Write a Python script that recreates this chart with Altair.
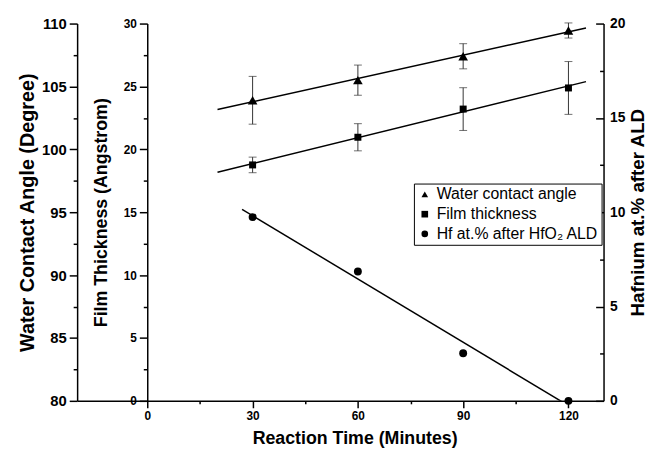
import altair as alt
import pandas as pd

# ---- data ----
time_min = [30, 60, 90, 120]
contact_angle = [103.9, 105.5, 107.4, 109.45]
contact_angle_err = [1.9, 1.2, 1.0, 0.6]
thickness = [18.76, 20.96, 23.2, 24.88]
thickness_err = [0.62, 1.08, 1.7, 2.1]
hf_percent = [9.74, 6.86, 2.52, 0.0]

series_names = ["Water contact angle", "Film thickness", "Hf at.% after HfO\u2082 ALD"]
series_shapes = ["triangle-up", "square", "circle"]

x_ticks = [0, 15, 30, 45, 60, 75, 90, 105, 120]
angle_ticks = [80, 82.5, 85, 87.5, 90, 92.5, 95, 97.5, 100, 102.5, 105, 107.5, 110]
thick_ticks = [0, 2.5, 5, 7.5, 10, 12.5, 15, 17.5, 20, 22.5, 25, 27.5, 30]
hf_ticks = [0, 2.5, 5, 7.5, 10, 12.5, 15, 17.5, 20]

FONT = "Liberation Sans"
W, H = 533, 382


def tick_size(step, major, minor):
    return {"condition": {"test": f"datum.value % {step} === 0", "value": major}, "value": minor}


def label_expr(step):
    return f"datum.value % {step} === 0 ? datum.label : ''"


angle_df = pd.DataFrame({"time": time_min, "angle": contact_angle,
                         "err": contact_angle_err, "series": series_names[0]})
thick_df = pd.DataFrame({"time": time_min, "thick": thickness,
                         "err": thickness_err, "series": series_names[1]})
hf_df = pd.DataFrame({"time": time_min, "hf": hf_percent, "series": series_names[2]})

x_enc = alt.X(
    "time:Q",
    scale=alt.Scale(domain=[-20, 130], nice=False, zero=False),
    axis=alt.Axis(values=x_ticks, title="Reaction Time (Minutes)",
                  labelExpr=label_expr(30), tickSize=tick_size(30, 7, 3),
                  labelFontSize=12, labelPadding=3, titleFontSize=18,
                  titleX=281, titleY=38, titleAlign="center", titleBaseline="middle",
                  labelFlush=False, labelOverlap=False),
)

shape_enc = alt.Shape(
    "series:N",
    scale=alt.Scale(domain=series_names, range=series_shapes),
    legend=alt.Legend(orient="none", legendX=341, legendY=162, title=None,
                      labelFont=FONT, labelFontSize=16, labelFontWeight="normal",
                      labelColor="black", labelLimit=400, symbolSize=45,
                      symbolFillColor="black", symbolStrokeColor="black",
                      strokeColor="black", fillColor="white",
                      padding=3, rowPadding=4, labelOffset=4),
)

angle_y = alt.Y(
    "angle:Q",
    scale=alt.Scale(domain=[80, 110], nice=False, zero=False),
    axis=alt.Axis(orient="left", values=angle_ticks, labelExpr=label_expr(5),
                  tickSize=tick_size(5, 8, 4), labelFontSize=15, labelPadding=3,
                  title="Water Contact Angle (Degree)", titleFontSize=20,
                  titleX=-50, titleY=H / 2, titleAngle=270, titleAlign="center",
                  titleBaseline="middle", labelFlush=False, labelOverlap=False),
)

thick_y = alt.Y(
    "thick:Q",
    scale=alt.Scale(domain=[0, 30], nice=False, zero=False),
    axis=alt.Axis(orient="left", offset=-71, values=thick_ticks, labelExpr=label_expr(5),
                  tickSize=tick_size(5, 8, 4), labelFontSize=12, labelPadding=3,
                  title="Film Thickness (Angstrom)", titleFontSize=18,
                  titleX=-46, titleY=H / 2, titleAngle=270, titleAlign="center",
                  titleBaseline="middle", labelFlush=False, labelOverlap=False),
)

hf_scale = alt.Scale(domain=[0, 20], nice=False, zero=False)
hf_y_main = alt.Y(
    "hf:Q", scale=hf_scale,
    axis=alt.Axis(orient="right", values=hf_ticks, labelExpr=label_expr(5), ticks=False,
                  labelFontSize=14, labelPadding=6,
                  title="Hafnium at.% after ALD", titleFontSize=19,
                  titleX=34, titleY=H / 2, titleAngle=270, titleAlign="center",
                  titleBaseline="middle", labelFlush=False, labelOverlap=False),
)
hf_y_ticks = alt.Y(
    "hf:Q", scale=hf_scale,
    axis=alt.Axis(orient="left", offset=-W, values=hf_ticks, labels=False, domain=False,
                  tickSize=tick_size(5, 8, 4), title=None),
)

# ---- water contact angle ----
angle_err = alt.Chart(angle_df).mark_errorbar(ticks={"size": 8}, color="#333333").encode(
    x=x_enc, y=angle_y, yError="err:Q")
angle_fit = alt.Chart(angle_df).transform_regression(
    "time", "angle", extent=[20, 125]).mark_line(color="black", strokeWidth=1.5).encode(
    x=x_enc, y=angle_y)
angle_pts = alt.Chart(angle_df).mark_point(filled=True, opacity=1, size=95, color="black").encode(
    x=x_enc, y=angle_y, shape=shape_enc)
water = alt.layer(angle_err, angle_fit, angle_pts)

# ---- film thickness ----
thick_err = alt.Chart(thick_df).mark_errorbar(ticks={"size": 8}, color="#333333").encode(
    x=x_enc, y=thick_y, yError="err:Q")
thick_fit = alt.Chart(thick_df).transform_regression(
    "time", "thick", extent=[20, 125]).mark_line(color="black", strokeWidth=1.5).encode(
    x=x_enc, y=thick_y)
thick_pts = alt.Chart(thick_df).mark_point(filled=True, opacity=1, size=50, color="black").encode(
    x=x_enc, y=thick_y, shape=shape_enc)
film = alt.layer(thick_err, thick_fit, thick_pts)

# ---- hafnium ----
hf_fit = alt.Chart(hf_df).transform_regression(
    "time", "hf", extent=[27, 125]).mark_line(color="black", strokeWidth=1.5, clip=True).encode(
    x=x_enc, y=hf_y_ticks)
hf_pts = alt.Chart(hf_df).mark_point(filled=True, opacity=1, size=64, color="black").encode(
    x=x_enc, y=hf_y_main, shape=shape_enc)
hafnium = alt.layer(hf_fit, hf_pts).resolve_axis(y="independent")

chart = alt.layer(water, film, hafnium).resolve_scale(y="independent").properties(
    width=W, height=H,
    autosize=alt.AutoSizeParams(type="none"),
    padding={"left": 70, "top": 13, "right": 44, "bottom": 46},
).configure_view(stroke=None).configure_axis(
    labelFont=FONT, titleFont=FONT, labelFontWeight="bold", titleFontWeight="bold",
    labelColor="black", titleColor="black", domainColor="black", tickColor="black",
    domainWidth=1.5, tickWidth=1.5, grid=False,
)

chart.save("out.html", embed_options={"renderer": "svg", "actions": False})
